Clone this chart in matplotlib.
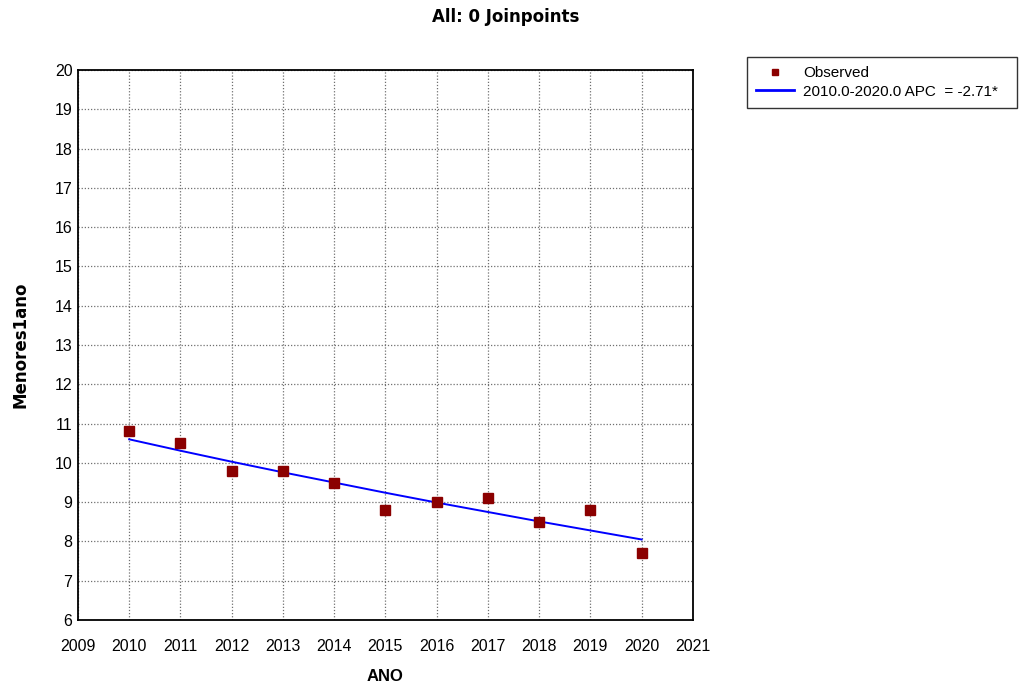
import matplotlib.pyplot as plt
from matplotlib.lines import Line2D

years = [2010, 2011, 2012, 2013, 2014, 2015, 2016, 2017, 2018, 2019, 2020]
observed = [10.8, 10.5, 9.8, 9.8, 9.5, 8.8, 9.0, 9.1, 8.5, 8.8, 7.7]
modeled = [10.6, 10.31, 10.03, 9.76, 9.50, 9.24, 8.99, 8.75, 8.51, 8.28, 8.05]
x_ticks = list(range(2009, 2022))
y_ticks = list(range(6, 21))

plt.rcParams["font.family"] = ["Liberation Sans", "DejaVu Sans"]

fig = plt.figure(figsize=(10.19, 6.87), dpi=100)
ax = fig.add_axes([0.0765, 0.0975, 0.6035, 0.8005])

ax.plot(years, modeled, color="#0000ff", lw=1.4, zorder=3)
ax.plot(years, observed, ls="none", marker="s", ms=7, color="#8b0000",
        mec="#8b0000", zorder=4)

ax.set_xlim(2009, 2021)
ax.set_ylim(6, 20)
ax.set_xticks(x_ticks)
ax.set_yticks(y_ticks)
ax.tick_params(length=0, labelsize=11.5)
ax.tick_params(axis="x", pad=14)
ax.tick_params(axis="y", pad=4)
ax.grid(True, color="#707070", ls=(0, (1, 1.5)), lw=0.9)
for s in ax.spines.values():
    s.set_linewidth(1.3)

# axis titles placed in figure coords
fig.text(0.378, 0.0146, "ANO", ha="center", va="center",
         fontsize=12, fontweight="bold")
fig.text(0.02, 0.498, "Menores1ano", ha="center", va="center", rotation=90,
         fontsize=12, fontweight="bold", family=["DejaVu Sans"])
fig.text(0.496, 0.975, "All: 0 Joinpoints", ha="center", va="center",
         fontsize=12, fontweight="bold", family=["DejaVu Sans"])

handles = [
    Line2D([], [], ls="none", marker="s", ms=5, color="#8b0000"),
    Line2D([], [], color="#0000ff", lw=2),
]
labels = ["Observed", "2010.0-2020.0 APC  = -2.71*"]
leg = fig.legend(handles, labels, loc="upper left", mode="expand",
                 bbox_to_anchor=(0.733, 0.835, 0.265, 0.082), fontsize=11,
                 frameon=True, fancybox=False, edgecolor="black",
                 handlelength=2.5, borderpad=0.6, labelspacing=0.3,
                 handletextpad=0.6, borderaxespad=0)
leg.get_frame().set_linewidth(1.0)

fig.savefig("out.png", dpi=100)
